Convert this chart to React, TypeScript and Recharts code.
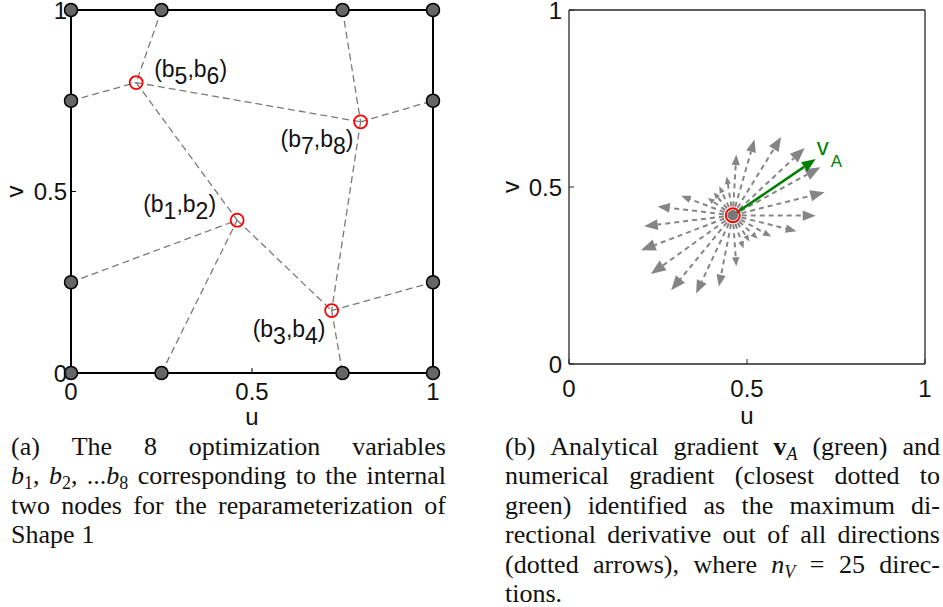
import React from 'react';
import { ScatterChart, Scatter, XAxis, YAxis, ReferenceLine } from 'recharts';

// ---- (a) parameter domain: fixed boundary nodes and the 4 internal nodes ----
const boundaryNodes = [
  { id: 'b0', u: 0, v: 0 }, { id: 'b1', u: 0.25, v: 0 }, { id: 'b2', u: 0.75, v: 0 }, { id: 'b3', u: 1, v: 0 },
  { id: 'w1', u: 0, v: 0.25 }, { id: 'e1', u: 1, v: 0.25 },
  { id: 'w2', u: 0, v: 0.75 }, { id: 'e2', u: 1, v: 0.75 },
  { id: 't0', u: 0, v: 1 }, { id: 't1', u: 0.25, v: 1 }, { id: 't2', u: 0.75, v: 1 }, { id: 't3', u: 1, v: 1 },
];

const innerNodes = [
  { id: 'n12', u: 0.459, v: 0.421, sub: ['1', '2'] },
  { id: 'n34', u: 0.72, v: 0.172, sub: ['3', '4'] },
  { id: 'n56', u: 0.18, v: 0.8, sub: ['5', '6'] },
  { id: 'n78', u: 0.8, v: 0.692, sub: ['7', '8'] },
];

const edges = [
  ['t1', 'n56'], ['w2', 'n56'], ['n56', 'n78'], ['n56', 'n12'],
  ['t2', 'n78'], ['n78', 'e2'], ['n78', 'n34'],
  ['w1', 'n12'], ['b1', 'n12'], ['n12', 'n34'],
  ['n34', 'e1'], ['n34', 'b2'],
];

// ---- (b) gradient check at node (b1,b2) ----
const gradOrigin = [{ u: 0.46, v: 0.42 }];
const analyticTip = { u: 0.693, v: 0.579 };
const directionTips = [
  { u: 0.693, v: 0.419 }, { u: 0.718, v: 0.485 }, { u: 0.706, v: 0.556 }, { u: 0.662, v: 0.61 },
  { u: 0.596, v: 0.641 }, { u: 0.521, v: 0.634 }, { u: 0.47, v: 0.591 }, { u: 0.443, v: 0.53 },
  { u: 0.422, v: 0.502 }, { u: 0.406, v: 0.485 }, { u: 0.39, v: 0.469 }, { u: 0.315, v: 0.475 },
  { u: 0.249, v: 0.445 }, { u: 0.211, v: 0.389 }, { u: 0.202, v: 0.321 }, { u: 0.23, v: 0.254 },
  { u: 0.287, v: 0.208 }, { u: 0.357, v: 0.199 }, { u: 0.421, v: 0.219 }, { u: 0.47, v: 0.276 },
  { u: 0.49, v: 0.326 }, { u: 0.507, v: 0.346 }, { u: 0.53, v: 0.354 }, { u: 0.568, v: 0.36 },
  { u: 0.639, v: 0.375 },
];

const axisTicks = [0, 0.5, 1];

const SANS = '"Liberation Sans", Arial, sans-serif';
const SERIF = '"Liberation Serif", "Times New Roman", serif';

const allNodes = [...boundaryNodes, ...innerNodes];
const node = (id: string) => allNodes.find((n) => n.id === id)!;

// label placement relative to each internal node (px)
const labelPos: Record<string, [number, number]> = {
  n12: [-94, -8],
  n34: [-79, 26],
  n56: [18, -6],
  n78: [-80, 25],
};

const BoundaryDot = (p: any) => (
  <circle cx={p.cx} cy={p.cy} r={6.5} fill="#666" stroke="#000" strokeWidth={1.5} />
);

const InnerDot = (p: any) => {
  const [dx, dy] = labelPos[p.payload.id];
  const [s1, s2] = p.payload.sub;
  return (
    <g>
      <circle cx={p.cx} cy={p.cy} r={6.5} fill="none" stroke="#ff0000" strokeWidth={1.8} />
      <text x={p.cx + dx} y={p.cy + dy} fontFamily={SANS} fontSize={23} fill="#111">
        (b<tspan dy={7}>{s1}</tspan>
        <tspan dy={-7}>,b</tspan>
        <tspan dy={7}>{s2}</tspan>
        <tspan dy={-7}>)</tspan>
      </text>
    </g>
  );
};

const CenterDot = (p: any) => (
  <g>
    <circle cx={p.cx} cy={p.cy} r={5} fill="#777" />
    <circle cx={p.cx} cy={p.cy} r={7} fill="none" stroke="#ff0000" strokeWidth={2} />
  </g>
);

const makeArrow = (color: string, dashed: boolean, width: number, headMax: number, label?: boolean) => (p: any) => {
  const { x1, y1, x2, y2 } = p;
  const dx = x2 - x1;
  const dy = y2 - y1;
  const len = Math.hypot(dx, dy) || 1;
  const ux = dx / len;
  const uy = dy / len;
  const h = Math.min(headMax, 3 + 0.12 * len);
  const w = h * 0.4;
  const bx = x2 - ux * h;
  const by = y2 - uy * h;
  return (
    <g>
      <line x1={x1} y1={y1} x2={bx} y2={by} stroke={color} strokeWidth={width}
        strokeDasharray={dashed ? '5 4' : undefined} />
      <polygon points={`${x2},${y2} ${bx - uy * w},${by + ux * w} ${bx + uy * w},${by - ux * w}`} fill={color} />
      {label && (
        <text fontFamily={SANS} fill={color}>
          <tspan x={x2 + 1} y={y2 - 4} fontSize={24}>v</tspan>
          <tspan x={x2 + 15} y={y2 + 8} fontSize={17}>A</tspan>
        </text>
      )}
    </g>
  );
};

const greyArrow = makeArrow('#858585', true, 2, 15);
const greenArrow = makeArrow('#008000', false, 2.5, 14, true);

const axisTitle = (text: string, dx: number, dy: number, rotate: boolean) => (props: any) => {
  const vb = props.viewBox || { x: 0, y: 0, width: 0, height: 0 };
  const cx = vb.x + vb.width / 2 + dx;
  const cy = vb.y + vb.height / 2 + dy;
  return (
    <text x={cx} y={cy} textAnchor="middle" fontFamily={SANS} fontSize={24} fill="#111"
      transform={rotate ? `rotate(-90 ${cx} ${cy})` : undefined}
      dominantBaseline={rotate ? 'central' : 'auto'}>
      {text}
    </text>
  );
};

const tickStyle = { fill: '#111', fontSize: 24, fontFamily: SANS };

// each axis gets a 1px band (a 0px axis is not drawn); margins compensate
function PanelA() {
  const axisLine = { stroke: '#000', strokeWidth: 2 };
  const tickLine = { stroke: '#000', strokeWidth: 1 };
  return (
    <ScatterChart width={470} height={430} margin={{ top: 9, right: 36, bottom: 56, left: 70 }}>
      <XAxis type="number" dataKey="u" domain={[0, 1]} ticks={axisTicks} interval={0} height={1}
        tick={tickStyle} tickSize={-5} tickMargin={15} axisLine={axisLine} tickLine={tickLine}
        label={{ content: axisTitle('u', 0, 51, false) }} />
      <YAxis type="number" dataKey="v" domain={[0, 1]} ticks={axisTicks} interval={0} width={1}
        tick={tickStyle} tickSize={-5} tickMargin={9} axisLine={axisLine} tickLine={tickLine}
        label={{ content: axisTitle('v', -56, 0, true) }} />
      <XAxis xAxisId="top" orientation="top" type="number" domain={[0, 1]} ticks={axisTicks} height={1}
        tick={false} tickSize={-5} axisLine={axisLine} tickLine={tickLine} />
      <YAxis yAxisId="right" orientation="right" type="number" domain={[0, 1]} ticks={axisTicks} width={1}
        tick={false} tickSize={-5} axisLine={axisLine} tickLine={tickLine} />
      {edges.map(([a, b], i) => (
        <ReferenceLine key={i}
          segment={[{ x: node(a).u, y: node(a).v }, { x: node(b).u, y: node(b).v }]}
          stroke="#7a7a7a" strokeWidth={1.3} strokeDasharray="7 4" />
      ))}
      <Scatter data={boundaryNodes} shape={BoundaryDot} isAnimationActive={false} />
      <Scatter data={innerNodes} shape={InnerDot} isAnimationActive={false} />
    </ScatterChart>
  );
}

function PanelB() {
  const axisLine = { stroke: '#262626', strokeWidth: 1.3 };
  const tickLine = { stroke: '#262626', strokeWidth: 1 };
  const o = gradOrigin[0];
  return (
    <ScatterChart width={473} height={430} margin={{ top: 9, right: 17, bottom: 65, left: 98 }}>
      <XAxis type="number" dataKey="u" domain={[0, 1]} ticks={axisTicks} interval={0} height={1}
        tick={tickStyle} tickSize={-5} tickMargin={21} axisLine={axisLine} tickLine={tickLine}
        label={{ content: axisTitle('u', 0, 59, false) }} />
      <YAxis type="number" dataKey="v" domain={[0, 1]} ticks={axisTicks} interval={0} width={1}
        tick={tickStyle} tickSize={-5} tickMargin={12} axisLine={axisLine} tickLine={tickLine}
        label={{ content: axisTitle('v', -58, 0, true) }} />
      <XAxis xAxisId="top" orientation="top" type="number" domain={[0, 1]} ticks={axisTicks} height={1}
        tick={false} tickSize={-5} axisLine={axisLine} tickLine={tickLine} />
      <YAxis yAxisId="right" orientation="right" type="number" domain={[0, 1]} ticks={axisTicks} width={1}
        tick={false} tickSize={-5} axisLine={axisLine} tickLine={tickLine} />
      {directionTips.map((t, i) => (
        <ReferenceLine key={i} segment={[{ x: o.u, y: o.v }, { x: t.u, y: t.v }]} shape={greyArrow} />
      ))}
      <ReferenceLine segment={[{ x: o.u, y: o.v }, { x: analyticTip.u, y: analyticTip.v }]} shape={greenArrow} />
      <Scatter data={gradOrigin} shape={CenterDot} isAnimationActive={false} />
    </ScatterChart>
  );
}

// ---- captions ----
const Sub = ({ children }: { children: React.ReactNode }) => (
  <span style={{ fontSize: 18, verticalAlign: '-5px', lineHeight: 0 }}>{children}</span>
);
const bi = (n: string) => (<><i>b</i><Sub>{n}</Sub></>);

const captionA: React.ReactNode[][] = [
  ['(a)', 'The', '8', 'optimization', 'variables'],
  [<>{bi('1')},</>, <>{bi('2')},</>, <>...{bi('8')}</>, 'corresponding', 'to', 'the', 'internal'],
  ['two', 'nodes', 'for', 'the', 'reparameterization', 'of'],
  ['Shape', '1'],
];

const captionB: React.ReactNode[][] = [
  ['(b)', 'Analytical', 'gradient', <><b>v</b><Sub><i>A</i></Sub></>, '(green)', 'and'],
  ['numerical', 'gradient', '(closest', 'dotted', 'to'],
  ['green)', 'identified', 'as', 'the', 'maximum', 'di-'],
  ['rectional', 'derivative', 'out', 'of', 'all', 'directions'],
  ['(dotted', 'arrows),', 'where', <><i>n</i><Sub><i>V</i></Sub></>, '=', '25', 'direc-'],
  ['tions.'],
];

function Caption({ lines, left }: { lines: React.ReactNode[][]; left: number }) {
  return (
    <div style={{ position: 'absolute', left, top: 432, width: 435, fontFamily: SERIF, fontSize: 26, color: '#111' }}>
      {lines.map((words, i) => {
        const last = i === lines.length - 1;
        return (
          <div key={i} style={{
            display: 'flex', alignItems: 'baseline', whiteSpace: 'nowrap', lineHeight: '29.4px', height: 29.4,
            justifyContent: last ? 'flex-start' : 'space-between', columnGap: last ? 7 : 0,
          }}>
            {words.map((w, j) => <span key={j}>{w}</span>)}
          </div>
        );
      })}
    </div>
  );
}

export default function App() {
  return (
    <div style={{ position: 'absolute', left: 0, top: 0, width: 943, height: 607, background: '#fff', overflow: 'hidden' }}>
      <div style={{ position: 'absolute', left: 0, top: 0 }}>
        <PanelA />
      </div>
      <div style={{ position: 'absolute', left: 470, top: 0 }}>
        <PanelB />
      </div>
      <Caption lines={captionA} left={11} />
      <Caption lines={captionB} left={505} />
    </div>
  );
}
